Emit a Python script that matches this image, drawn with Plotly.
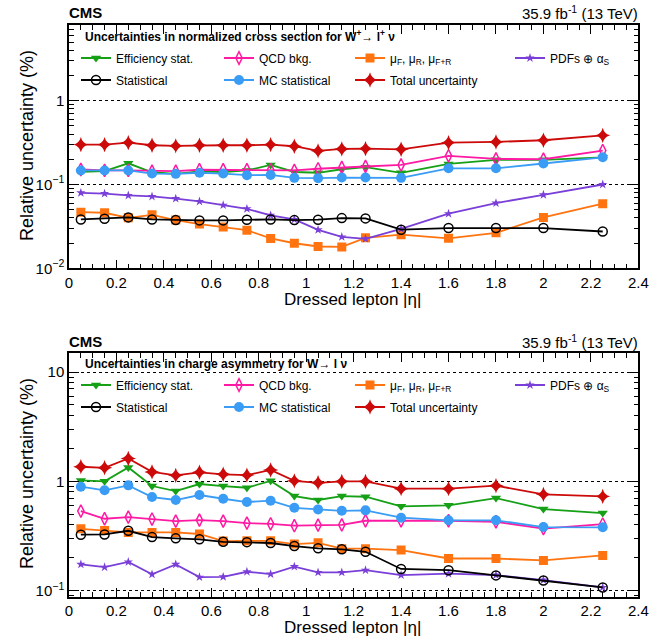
import plotly.graph_objects as go

# ---------------- data ----------------
eta = [0.05, 0.15, 0.25, 0.35, 0.45, 0.55, 0.65, 0.75, 0.85, 0.95,
       1.05, 1.15, 1.25, 1.4, 1.6, 1.8, 2.0, 2.25]

# Top panel: normalized cross section W+ -> l+ nu (%)
eff_top = [0.142, 0.144, 0.179, 0.140, 0.134, 0.143, 0.141, 0.147, 0.171, 0.141,
           0.138, 0.152, 0.161, 0.138, 0.176, 0.197, 0.197, 0.211]
qcd_top = [0.151, 0.147, 0.147, 0.144, 0.144, 0.150, 0.150, 0.150, 0.150, 0.147,
           0.154, 0.160, 0.164, 0.171, 0.220, 0.202, 0.200, 0.254]
scale_top = [0.0468, 0.046, 0.040, 0.0435, 0.0376, 0.0337, 0.031, 0.0285, 0.0227, 0.0199,
             0.0182, 0.018, 0.0231, 0.0252, 0.0228, 0.0265, 0.0405, 0.059]
pdf_top = [0.0796, 0.078, 0.074, 0.072, 0.068, 0.0628, 0.0567, 0.0513, 0.0428, 0.0383,
           0.0288, 0.0237, 0.0225, 0.0295, 0.0448, 0.060, 0.0754, 0.100]
stat_top = [0.0383, 0.039, 0.0405, 0.0383, 0.0376, 0.0373, 0.0373, 0.038, 0.0383, 0.0376,
            0.038, 0.0397, 0.0394, 0.0289, 0.0302, 0.0302, 0.0302, 0.0275]
mc_top = [0.147, 0.147, 0.147, 0.135, 0.134, 0.138, 0.135, 0.129, 0.130, 0.120,
          0.119, 0.121, 0.121, 0.120, 0.156, 0.156, 0.178, 0.211]
tot_top = [0.299, 0.299, 0.316, 0.294, 0.289, 0.294, 0.294, 0.294, 0.299, 0.286,
           0.252, 0.266, 0.268, 0.263, 0.316, 0.322, 0.337, 0.386]

# Bottom panel: charge asymmetry W -> l nu (%)
eff_bot = [1.02, 1.00, 1.34, 0.906, 0.815, 0.945, 0.906, 0.874, 1.01, 0.733,
           0.675, 0.733, 0.723, 0.591, 0.603, 0.703, 0.558, 0.513]
qcd_bot = [0.535, 0.455, 0.471, 0.452, 0.433, 0.442, 0.433, 0.415, 0.409, 0.393,
           0.398, 0.400, 0.436, 0.436, 0.436, 0.427, 0.369, 0.407]
scale_bot = [0.368, 0.356, 0.341, 0.341, 0.341, 0.330, 0.284, 0.286, 0.286, 0.267,
             0.274, 0.242, 0.242, 0.235, 0.197, 0.197, 0.189, 0.210]
pdf_bot = [0.174, 0.164, 0.183, 0.141, 0.174, 0.133, 0.134, 0.149, 0.142, 0.166,
           0.147, 0.147, 0.154, 0.139, 0.143, 0.139, 0.125, 0.107]
stat_bot = [0.325, 0.327, 0.353, 0.309, 0.301, 0.295, 0.280, 0.278, 0.273, 0.256,
            0.244, 0.239, 0.227, 0.158, 0.154, 0.138, 0.124, 0.107]
mc_bot = [0.893, 0.828, 0.919, 0.718, 0.675, 0.750, 0.693, 0.647, 0.665, 0.573,
          0.554, 0.538, 0.543, 0.465, 0.440, 0.440, 0.382, 0.380]
tot_bot = [1.36, 1.33, 1.62, 1.22, 1.135, 1.21, 1.16, 1.14, 1.27, 1.01,
           0.97, 1.00, 1.00, 0.857, 0.857, 0.912, 0.76, 0.729]

names = ["Efficiency stat.", "QCD bkg.", "\u03bc<sub>F</sub>, \u03bc<sub>R</sub>, \u03bc<sub>F+R</sub>",
         "PDFs \u2295 \u03b1<sub>S</sub>", "Statistical", "MC statistical", "Total uncertainty"]

top_series = [eff_top, qcd_top, scale_top, pdf_top, stat_top, mc_top, tot_top]
bot_series = [eff_bot, qcd_bot, scale_bot, pdf_bot, stat_bot, mc_bot, tot_bot]

# ---------------- styles ----------------
FONT = "Liberation Sans, Arial, Helvetica, sans-serif"
W, H = 672, 643
colors = ["#16a016", "#ff1aa3", "#ff7410", "#7a3fd8", "#000000", "#3a9cf5", "#cc0a0a"]
symbols = ["triangle-down", "diamond-tall-open", "square", "star", "circle-open", "circle", "star-diamond"]
sizes = [9, 9, 9, 7, 9, 10, 11]

# legend layout: columns (left px) and rows (center px)
col_left = [76, 219, 350, 510]
slot = [(0, 0), (1, 0), (2, 0), (3, 0), (0, 1), (1, 1), (2, 1)]
rows_top = [58, 80]
rows_bot = [385, 407]

fig = go.Figure()

def add_panel(series, xa, ya, legend_offset):
    for i, vals in enumerate(series):
        is_open = symbols[i].endswith("open")
        fig.add_trace(go.Scatter(
            x=eta, y=vals, mode="lines+markers", name=names[i],
            line=dict(color=colors[i], width=1.8),
            marker=dict(symbol=symbols[i], size=sizes[i], color=colors[i],
                        line=dict(color=colors[i], width=1.5 if is_open else 0)),
            xaxis=xa, yaxis=ya,
            legend=f"legend{legend_offset + i}",
        ))

add_panel(top_series, "x", "y", 2)
add_panel(bot_series, "x2", "y2", 9)

layout_legends = {}
for start, rows in ((2, rows_top), (9, rows_bot)):
    for i in range(7):
        c, r = slot[i]
        layout_legends[f"legend{start + i}"] = dict(
            x=col_left[c] / W, xanchor="left",
            y=1 - rows[r] / H, yanchor="middle",
            bgcolor="rgba(0,0,0,0)", borderwidth=0,
            font=dict(family=FONT, size=12, color="black"),
        )

xdom = [69 / W, 638.3 / W]
top_dom = [(H - 268.3) / H, (H - 25) / H]
bot_dom = [(H - 596.7) / H, (H - 353.3) / H]

minor_log = [k * 10 ** e for e in range(-3, 2) for k in range(2, 10)]

def xaxis(dom_anchor):
    return dict(domain=xdom, anchor=dom_anchor, range=[0, 2.4], dtick=0.2, tick0=0,
                showline=True, linecolor="black", linewidth=1.5, mirror="ticks",
                ticks="inside", ticklen=9, tickwidth=1, tickcolor="black",
                minor=dict(dtick=0.05, ticks="inside", ticklen=5, tickcolor="black", showgrid=False),
                showgrid=False, zeroline=False, automargin=False,
                tickfont=dict(family=FONT, size=15, color="black"))

def yaxis(dom, rng, tv, tt, anchor):
    return dict(domain=dom, anchor=anchor, type="log", range=rng,
                tickmode="array", tickvals=tv, ticktext=tt,
                showline=True, linecolor="black", linewidth=1.5, mirror="ticks",
                ticks="inside", ticklen=10, tickwidth=1, tickcolor="black",
                minor=dict(tickmode="array", tickvals=minor_log, ticks="inside", ticklen=5,
                           tickcolor="black", showgrid=False),
                showgrid=True, gridcolor="black", griddash="dot", gridwidth=1,
                zeroline=False, automargin=False,
                tickfont=dict(family=FONT, size=15, color="black"))

fig.update_layout(
    width=W, height=H,
    margin=dict(l=0, r=0, t=0, b=0, autoexpand=False),
    paper_bgcolor="white", plot_bgcolor="white",
    font=dict(family=FONT, color="black"),
    showlegend=True,
    xaxis=xaxis("y"),
    yaxis=yaxis(top_dom, [-2, 0.903], [0.01, 0.1, 1], ["10<sup>\u22122</sup>", "10<sup>\u22121</sup>", "1"], "x"),
    xaxis2=xaxis("y2"),
    yaxis2=yaxis(bot_dom, [-1.055, 1.171], [0.1, 1, 10], ["10<sup>\u22121</sup>", "1", "10"], "x2"),
    **layout_legends,
)

def px_ann(text, x, y, size, xanchor="left", bold=False, angle=0):
    fig.add_annotation(
        text=f"<b>{text}</b>" if bold else text,
        x=x / W, y=1 - y / H, xref="paper", yref="paper",
        xanchor=xanchor, yanchor="middle", showarrow=False, textangle=angle,
        font=dict(family=FONT, size=size, color="black"))

for off, header in ((0, "Uncertainties in normalized cross section for W<sup>+</sup>\u2192 l<sup>+</sup> \u03bd"),
                    (328, "Uncertainties in charge asymmetry for W\u2192 l \u03bd")):
    px_ann("CMS", 67, 13 + off, 15, bold=True)
    px_ann("35.9 fb<sup>-1</sup> (13 TeV)", 640, 13 + off, 15, xanchor="right")
    px_ann(header, 83, 36 + off, 12, bold=True)
    px_ann("Relative uncertainty (%)", 27, 146 + off, 18, xanchor="center", angle=-90)
    px_ann("Dressed lepton |\u03b7|", 352, 299 + off, 17, xanchor="center")

fig.write_html("out.html",
               config={"displayModeBar": False},
               post_script="document.body.style.margin='0px';document.body.style.padding='0px';")
